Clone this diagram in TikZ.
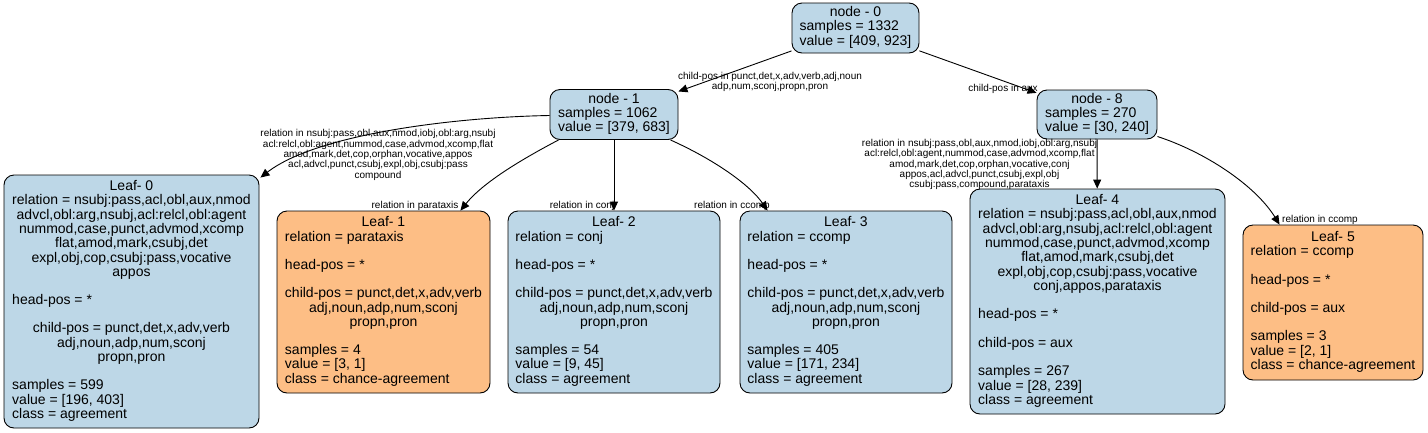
\documentclass[tikz,border=0pt]{standalone}
\usepackage{fontspec}
\setmainfont{Liberation Sans}
\usepackage{tikz}
\usetikzlibrary{arrows.meta}
\definecolor{nodeblue}{HTML}{BDD7E7}
\definecolor{nodeorange}{HTML}{FDBE85}
\newcommand{\cln}[1]{\multicolumn{1}{@{}c@{}}{#1}}

\begin{document}
\begin{tikzpicture}[
  x=1pt, y=-1pt,
  arr/.style={-{Triangle[length=9pt,width=8pt]}, line width=0.9pt},
  box/.style={draw, line width=0.9pt, rounded corners=10pt, inner sep=0pt,
    font=\fontsize{14}{14}\selectfont},
  lab/.style={align=center, inner sep=0pt, font=\fontsize{10}{10.3}\selectfont},
]
\useasboundingbox (0,0) rectangle (1428,432);

\node[box, fill=nodeblue, minimum width=127pt, minimum height=50pt] (n0) at (855.5,28)
  {\begin{tabular}{@{}l@{}}\cln{node - 0}\\ samples = 1332\\ value = [409, 923]\end{tabular}};
\node[box, fill=nodeblue, minimum width=128pt, minimum height=50pt] (n1) at (614,114.5)
  {\begin{tabular}{@{}l@{}}\cln{node - 1}\\ samples = 1062\\ value = [379, 683]\end{tabular}};
\node[box, fill=nodeblue, minimum width=120pt, minimum height=49pt] (n8) at (1097,114.5)
  {\begin{tabular}{@{}l@{}}\cln{node - 8}\\ samples = 270\\ value = [30, 240]\end{tabular}};

\node[box, fill=nodeblue, minimum width=255pt, minimum height=253pt] (leaf0) at (131.5,301.5)
  {\begin{tabular}{@{}l@{}}
   \cln{Leaf- 0}\\
   relation = nsubj:pass,acl,obl,aux,nmod\\
   \cln{advcl,obl:arg,nsubj,acl:relcl,obl:agent}\\
   \cln{nummod,case,punct,advmod,xcomp}\\
   \cln{flat,amod,mark,csubj,det}\\
   \cln{expl,obj,cop,csubj:pass,vocative}\\
   \cln{appos}\\
   \\
   head-pos = *\\
   \\
   \cln{child-pos = punct,det,x,adv,verb}\\
   \cln{adj,noun,adp,num,sconj}\\
   \cln{propn,pron}\\
   \\
   samples = 599\\
   value = [196, 403]\\
   class = agreement
   \end{tabular}};
\node[box, fill=nodeorange, minimum width=213pt, minimum height=182pt] (leaf1) at (383.5,302)
  {\begin{tabular}{@{}l@{}}
   \cln{Leaf- 1}\\
   relation = parataxis\\
   \\
   head-pos = *\\
   \\
   child-pos = punct,det,x,adv,verb\\
   \cln{adj,noun,adp,num,sconj}\\
   \cln{propn,pron}\\
   \\
   samples = 4\\
   value = [3, 1]\\
   class = chance-agreement
   \end{tabular}};
\node[box, fill=nodeblue, minimum width=212pt, minimum height=182pt] (leaf2) at (614,302)
  {\begin{tabular}{@{}l@{}}
   \cln{Leaf- 2}\\
   relation = conj\\
   \\
   head-pos = *\\
   \\
   child-pos = punct,det,x,adv,verb\\
   \cln{adj,noun,adp,num,sconj}\\
   \cln{propn,pron}\\
   \\
   samples = 54\\
   value = [9, 45]\\
   class = agreement
   \end{tabular}};
\node[box, fill=nodeblue, minimum width=212pt, minimum height=182pt] (leaf3) at (846,302)
  {\begin{tabular}{@{}l@{}}
   \cln{Leaf- 3}\\
   relation = ccomp\\
   \\
   head-pos = *\\
   \\
   child-pos = punct,det,x,adv,verb\\
   \cln{adj,noun,adp,num,sconj}\\
   \cln{propn,pron}\\
   \\
   samples = 405\\
   value = [171, 234]\\
   class = agreement
   \end{tabular}};
\node[box, fill=nodeblue, minimum width=255pt, minimum height=225pt] (leaf4) at (1097.5,301.5)
  {\begin{tabular}{@{}l@{}}
   \cln{Leaf- 4}\\
   relation = nsubj:pass,acl,obl,aux,nmod\\
   \cln{advcl,obl:arg,nsubj,acl:relcl,obl:agent}\\
   \cln{nummod,case,punct,advmod,xcomp}\\
   \cln{flat,amod,mark,csubj,det}\\
   \cln{expl,obj,cop,csubj:pass,vocative}\\
   \cln{conj,appos,parataxis}\\
   \\
   head-pos = *\\
   \\
   child-pos = aux\\
   \\
   samples = 267\\
   value = [28, 239]\\
   class = agreement
   \end{tabular}};
\node[box, fill=nodeorange, minimum width=180pt, minimum height=155pt] (leaf5) at (1333,302.5)
  {\begin{tabular}{@{}l@{}}
   \cln{Leaf- 5}\\
   relation = ccomp\\
   \\
   head-pos = *\\
   \\
   child-pos = aux\\
   \\
   samples = 3\\
   value = [2, 1]\\
   class = chance-agreement
   \end{tabular}};

\draw[arr] (n0) -- (n1);
\draw[arr] (n0) -- (n8);
\draw[arr] ([yshift=-1pt]n1.west) .. controls (460,117) and (318,133) .. ([xshift=1pt,yshift=-3pt]leaf0.north east);
\draw[arr] ([xshift=9pt]n1.south west) .. controls (530,155) and (485,180) .. ([xshift=-30pt]leaf1.north east);
\draw[arr] (n1) -- (leaf2);
\draw[arr] ([xshift=-8pt]n1.south east) .. controls (715,160) and (750,185) .. ([xshift=28pt]leaf3.north west);
\draw[arr] (n8) -- (leaf4);
\draw[arr] (n8.-20) .. controls (1205,152) and (1255,185) .. ([xshift=37pt]leaf5.north west);

\node[lab] (l01) at (770,82) {child-pos in punct,det,x,adv,verb,adj,noun\\adp,num,sconj,propn,pron};
\node[lab] (l08) at (1003,89) {child-pos in aux};
\node[lab] (l10) at (378,155) {relation in nsubj:pass,obl,aux,nmod,iobj,obl:arg,nsubj\\
  acl:relcl,obl:agent,nummod,case,advmod,xcomp,flat\\amod,mark,det,cop,orphan,vocative,appos\\
  acl,advcl,punct,csubj,expl,obj,csubj:pass\\compound};
\node[lab] (l11) at (415,206) {relation in parataxis};
\node[lab] (l12) at (582,206) {relation in conj};
\node[lab] (l13) at (732,206) {relation in ccomp};
\node[lab] (l84) at (979.5,164.5) {relation in nsubj:pass,obl,aux,nmod,iobj,obl:arg,nsubj\\
  acl:relcl,obl:agent,nummod,case,advmod,xcomp,flat\\amod,mark,det,cop,orphan,vocative,conj\\
  appos,acl,advcl,punct,csubj,expl,obj\\csubj:pass,compound,parataxis};
\node[lab] (l85) at (1320,220) {relation in ccomp};
\end{tikzpicture}
\end{document}
